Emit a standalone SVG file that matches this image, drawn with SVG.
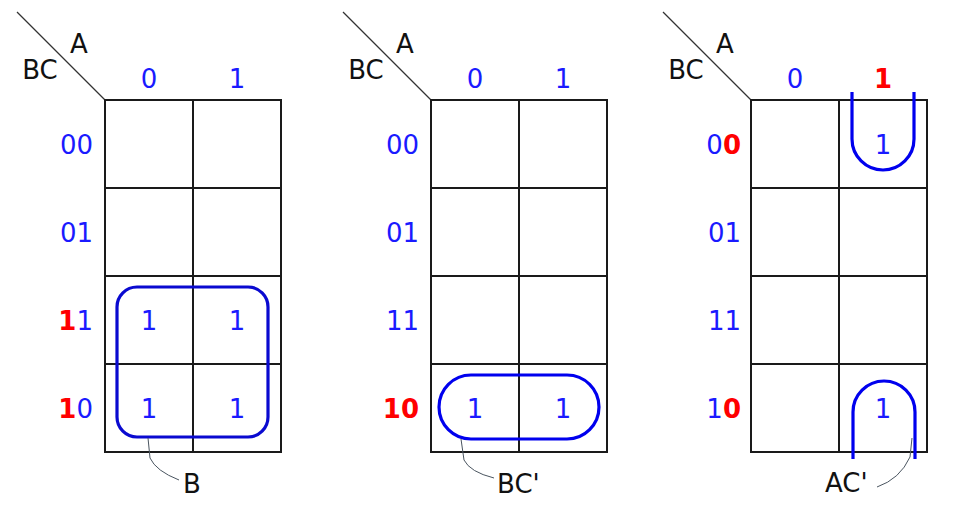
<svg xmlns="http://www.w3.org/2000/svg" width="961" height="514" viewBox="0 0 961 514">
<style>
text{font-family:"DejaVu Sans","Liberation Sans",sans-serif;font-size:26px}
.b{fill:#1a1aff}
.r{fill:#ff0000;font-weight:bold}
.k{fill:#111}
.m{text-anchor:middle}
.e{text-anchor:end}
.grid{fill:none;stroke:#1a1a1a;stroke-width:2}
.diag{stroke:#333;stroke-width:1.3}
.loop{fill:none;stroke:#0000ee;stroke-width:3.2}
.conn{fill:none;stroke:#4a5560;stroke-width:1}
</style>
<rect width="961" height="514" fill="#fff"/>
<defs>
<g id="kgrid">
<line class="diag" x1="17" y1="12" x2="105" y2="100"/>
<rect class="grid" x="105" y="100" width="176" height="352"/>
<line class="grid" x1="193" y1="100" x2="193" y2="452"/>
<line class="grid" x1="105" y1="188" x2="281" y2="188"/>
<line class="grid" x1="105" y1="276" x2="281" y2="276"/>
<line class="grid" x1="105" y1="364" x2="281" y2="364"/>
<text class="k m" x="79" y="53">A</text>
<text class="k m" x="40" y="79">BC</text>
</g>
</defs>
<g id="map1">
<use href="#kgrid"/>
<text class="b m" x="149" y="88">0</text>
<text class="b m" x="237" y="88">1</text>
<text class="e" x="93" y="154"><tspan class="b">00</tspan></text>
<text class="e" x="93" y="242"><tspan class="b">01</tspan></text>
<text class="e" x="93" y="330"><tspan class="r">1</tspan><tspan class="b">1</tspan></text>
<text class="e" x="93" y="418"><tspan class="r">1</tspan><tspan class="b">0</tspan></text>
<text class="b m" x="149" y="330">1</text>
<text class="b m" x="237" y="330">1</text>
<text class="b m" x="149" y="418">1</text>
<text class="b m" x="237" y="418">1</text>
<rect class="loop" x="117" y="287" width="151" height="150" rx="20" style="stroke:#0a0ad0"/>
<text class="k" x="183" y="493">B</text>
</g>
<g id="map2">
<use href="#kgrid" x="326"/>
<text class="b m" x="475" y="88">0</text>
<text class="b m" x="563" y="88">1</text>
<text class="b e" x="419" y="154">00</text>
<text class="b e" x="419" y="242">01</text>
<text class="b e" x="419" y="330">11</text>
<text class="r e" x="419" y="418">10</text>
<text class="b m" x="475" y="418">1</text>
<text class="b m" x="563" y="418">1</text>
<rect class="loop" x="439" y="375" width="160" height="64" rx="32"/>
<text class="k" x="497" y="493">BC'</text>
</g>
<g id="map3">
<use href="#kgrid" x="646"/>
<text class="b m" x="795" y="88">0</text>
<text class="r m" x="883" y="88">1</text>
<text class="e" x="741" y="154"><tspan class="b">0</tspan><tspan class="r">0</tspan></text>
<text class="b e" x="741" y="242">01</text>
<text class="b e" x="741" y="330">11</text>
<text class="e" x="741" y="418"><tspan class="b">1</tspan><tspan class="r">0</tspan></text>
<text class="b m" x="883" y="154">1</text>
<text class="b m" x="883" y="418">1</text>
<path class="loop" d="M852,92 V139 A31,31 0 0 0 914,139 V92"/>
<path class="loop" d="M853,459 V412 A31,31 0 0 1 915,412 V459"/>
<text class="k" x="825" y="492">AC'</text>
</g>
<g id="connectors">
<path class="conn" d="M148,438 L150,458 Q156,471 179,480"/>
<path class="conn" d="M461,439 L464,460 Q470,472 494,478"/>
<path class="conn" d="M912,438 L910,457 Q900,479 877,487"/>
</g>
</svg>
